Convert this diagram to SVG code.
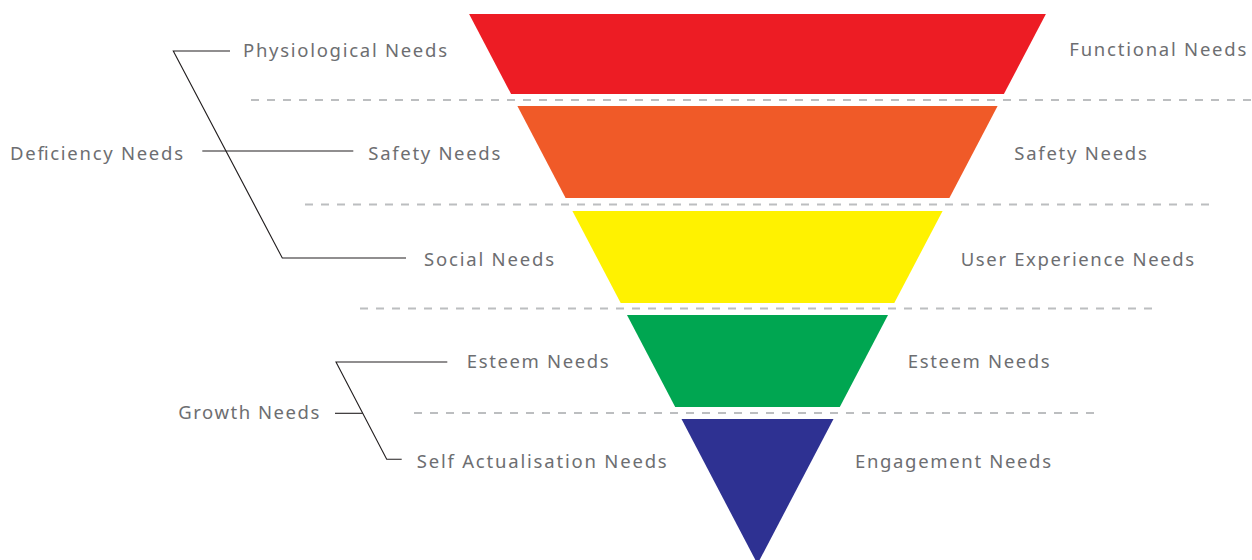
<svg xmlns="http://www.w3.org/2000/svg" width="1252" height="560" viewBox="0 0 1252 560">
<style>
.lbl{font-family:"Noto Sans","Open Sans","Liberation Sans",sans-serif;font-size:18.5px;fill:#6d6e71}
.dash{stroke:#bcbec0;stroke-width:2;stroke-dasharray:8 8;fill:none}
.br{stroke:#231f20;stroke-width:1.1;fill:none}
</style>
<rect width="1252" height="560" fill="#ffffff"/>
<g id="guides">
<line class="dash" x1="251" y1="100" x2="1265" y2="100"/>
<line class="dash" x1="305" y1="204.5" x2="1209" y2="204.5"/>
<line class="dash" x1="360" y1="308.5" x2="1153" y2="308.5"/>
<line class="dash" x1="414" y1="413" x2="1095" y2="413"/>
</g>
<g id="band-red"><polygon points="469.1,14 1045.9,14 1003.9,94 511.1,94" fill="#ed1c24"/></g>
<g id="band-orange"><polygon points="517.4,106 997.6,106 949.4,198 565.6,198" fill="#f05a28"/></g>
<g id="band-yellow"><polygon points="572.4,211 942.6,211 894.3,303 620.7,303" fill="#fff200"/></g>
<g id="band-green"><polygon points="627,315 888,315 839.8,407 675.2,407" fill="#00a651"/></g>
<g id="band-blue"><polygon points="681.5,419 833.5,419 757.5,564" fill="#2e3192"/></g>
<g id="connectors">
<polyline class="br" points="230,51 173.3,51 282.3,258 406,258"/>
<line class="br" x1="202.3" y1="151" x2="353.3" y2="151"/>
<polyline class="br" points="447.3,362 336,362 386.7,459.3 401.7,459.3"/>
<line class="br" x1="335" y1="413.3" x2="362.7" y2="413.3"/>
</g>
<g id="left-labels">
<text id="t-physio" class="lbl" x="243" y="57" textLength="204" lengthAdjust="spacing">Physiological Needs</text>
<text id="t-deficiency" class="lbl" x="10" y="160" textLength="173" lengthAdjust="spacing">Deficiency Needs</text>
<text id="t-safety-l" class="lbl" x="368.3" y="160" textLength="132" lengthAdjust="spacing">Safety Needs</text>
<text id="t-social" class="lbl" x="424" y="266" textLength="130" lengthAdjust="spacing">Social Needs</text>
<text id="t-esteem-l" class="lbl" x="466.7" y="368" textLength="142" lengthAdjust="spacing">Esteem Needs</text>
<text id="t-growth" class="lbl" x="178.3" y="419" textLength="141" lengthAdjust="spacing">Growth Needs</text>
<text id="t-self" class="lbl" x="416.7" y="468" textLength="250" lengthAdjust="spacing">Self Actualisation Needs</text>
</g>
<g id="right-labels">
<text id="t-functional" class="lbl" x="1069.3" y="56" textLength="177" lengthAdjust="spacing">Functional Needs</text>
<text id="t-safety-r" class="lbl" x="1014.3" y="160" textLength="132.5" lengthAdjust="spacing">Safety Needs</text>
<text id="t-ux" class="lbl" x="960.7" y="266" textLength="233.5" lengthAdjust="spacing">User Experience Needs</text>
<text id="t-esteem-r" class="lbl" x="907.7" y="367.5" textLength="142" lengthAdjust="spacing">Esteem Needs</text>
<text id="t-engagement" class="lbl" x="855" y="468" textLength="196" lengthAdjust="spacing">Engagement Needs</text>
</g>
</svg>
